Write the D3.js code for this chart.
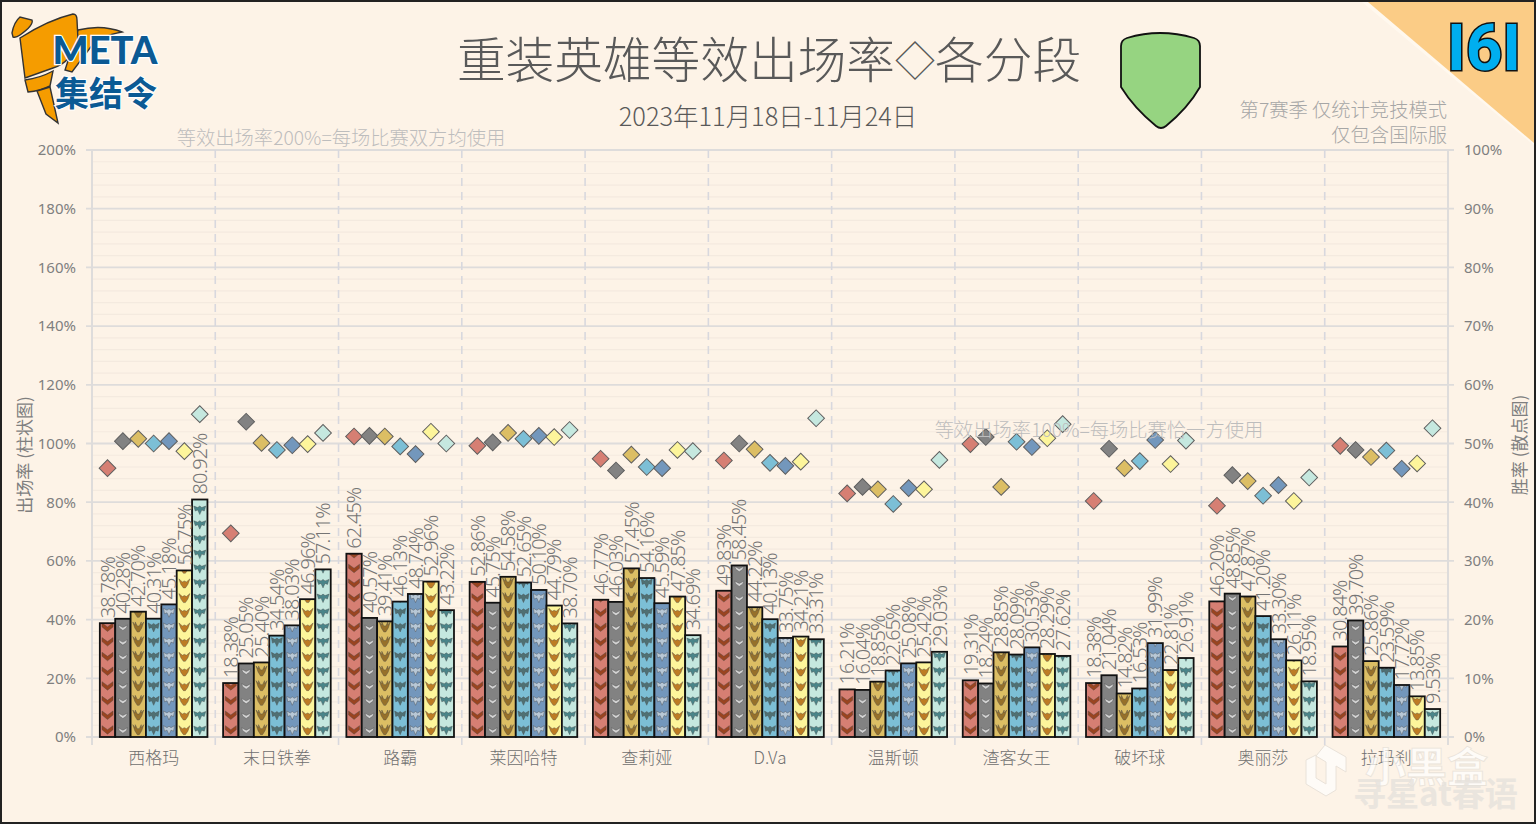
<!DOCTYPE html>
<html lang="zh">
<head>
<meta charset="utf-8">
<script src="https://cdn.jsdelivr.net/npm/d3@7"></script>
<style>
html,body{margin:0;padding:0;background:#fdf3e7;overflow:hidden}
svg{display:block}
text{font-family:"Noto Sans CJK SC","Noto Sans",sans-serif}
</style>
</head>
<body>
<svg id="c" width="1536" height="824"></svg>
<script>
const heroes = ["西格玛","末日铁拳","路霸","莱因哈特","查莉娅","D.Va","温斯顿","渣客女王","破坏球","奥丽莎","拉玛刹"];
const tiers = ["铜牌","银牌","金牌","白金","钻石","大师","宗师"];
const tierColors = ["#d67f73","#828282","#dcbe64","#7cbfd6","#7397bc","#fdf59b","#c5e8df"];
const iconColors = ["#9a4420","#d4d4d4","#96702a","#4f7073","#b8c8d6","#bd7c24","#4a8589"];
const pickRate = [
 [38.78,40.28,42.70,40.31,45.18,56.75,80.92],
 [18.38,25.05,25.40,34.54,38.03,46.96,57.11],
 [62.45,40.57,39.41,46.13,48.74,52.96,43.22],
 [52.86,45.75,54.58,52.65,50.10,44.79,38.70],
 [46.77,46.03,57.45,54.16,45.59,47.85,34.69],
 [49.83,58.45,44.22,40.13,33.75,34.21,33.31],
 [16.21,16.04,18.85,22.65,25.08,25.42,29.03],
 [19.31,18.24,28.85,28.09,30.53,28.29,27.62],
 [18.38,21.04,14.82,16.53,31.99,22.81,26.91],
 [46.20,48.85,47.87,41.20,33.30,26.11,18.95],
 [30.84,39.70,25.86,23.59,17.72,13.85,9.53]
];
const winRate = [
 [45.8,50.4,50.8,50.0,50.4,48.7,55.0],
 [34.7,53.7,50.1,48.9,49.7,49.9,51.8],
 [51.2,51.3,51.2,49.5,48.2,52.0,50.0],
 [49.6,50.2,51.8,50.8,51.3,51.1,52.3],
 [47.4,45.4,48.1,46.0,45.8,48.9,48.7],
 [47.1,50.0,49.0,46.7,46.2,46.9,54.3],
 [41.5,42.6,42.2,39.7,42.4,42.2,47.2],
 [49.9,51.1,42.6,50.3,49.4,50.9,53.3],
 [40.2,49.1,45.8,47.0,50.6,46.5,50.5],
 [39.4,44.6,43.6,41.1,42.9,40.2,44.2],
 [49.6,48.9,47.7,48.8,45.7,46.6,52.6]
];
const leftTicks = d3.range(0,201,20);
const rightTicks = d3.range(0,101,10);
const minorTicks = d3.range(0,201,4).filter(v=>v%20!==0);

const svg = d3.select("#c");
const L=92,R=1448,T=150,B=737;
const x = d3.scaleBand().domain(heroes).range([L,R]).paddingInner(0.127).paddingOuter(0.0635);
const xi = d3.scaleBand().domain(d3.range(7)).range([0,x.bandwidth()]);
const y = d3.scaleLinear().domain([0,200]).range([B,T]);
const yw = d3.scaleLinear().domain([0,100]).range([B,T]);
const step = x.step();

svg.append("rect").attr("width",1536).attr("height",824).attr("fill","#fdf3e7");

// corner ribbon
svg.append("path").attr("d","M1362,2 L1536,2 L1536,147 Z").attr("fill","#fff8ee");
svg.append("path").attr("d","M1368,2 L1534,2 L1534,143 Z").attr("fill","#fbcc86");
svg.append("text").text("I6I").attr("x",1484).attr("y",70).attr("text-anchor","middle")
  .style("font-family","Roboto").style("font-weight",700).style("font-size","64px")
  .attr("fill","#00aeef").attr("stroke","#111").attr("stroke-width",3).attr("paint-order","stroke");

// minor grid
svg.append("g").selectAll("line").data(minorTicks).join("line")
  .attr("x1",L).attr("x2",R).attr("y1",d=>y(d)).attr("y2",d=>y(d))
  .attr("stroke","#f4eadf").attr("stroke-width",1.2);
// major grid
svg.append("g").selectAll("line").data(leftTicks).join("line")
  .attr("x1",L-6).attr("x2",R+6).attr("y1",d=>y(d)).attr("y2",d=>y(d))
  .attr("stroke","#dedcdb").attr("stroke-width",1.8);
// category separators
svg.append("g").selectAll("line").data(d3.range(1,11)).join("line")
  .attr("x1",d=>L+d*step).attr("x2",d=>L+d*step).attr("y1",T).attr("y2",B+8)
  .attr("stroke","#d8d8de").attr("stroke-width",1.6).attr("stroke-dasharray","8 6");
// frame verticals
svg.append("g").selectAll("line").data([L,R]).join("line")
  .attr("x1",d=>d).attr("x2",d=>d).attr("y1",T).attr("y2",B+8)
  .attr("stroke","#dedcdb").attr("stroke-width",2);

// axes
const leftAxis = d3.axisLeft(y).tickValues(leftTicks).tickFormat(d=>d+"%").tickSize(0).tickPadding(16);
const rightAxis = d3.axisRight(yw).tickValues(rightTicks).tickFormat(d=>d+"%").tickSize(0).tickPadding(16);
const bottomAxis = d3.axisBottom(x).tickSize(0).tickPadding(15);
[[leftAxis,`translate(${L},0)`],[rightAxis,`translate(${R},0)`],[bottomAxis,`translate(0,${B})`]].forEach(([a,t],i)=>{
  const g = svg.append("g").attr("transform",t).call(a);
  g.select(".domain").remove();
  g.selectAll("text").attr("fill",i===2?"#6f6f6f":"#7f7f7f")
   .style("font-family",'"Noto Sans","Noto Sans CJK SC",sans-serif')
   .style("font-size",i===2?"17px":"15px");
  if(i===2) g.selectAll("text").style("font-family",'"Noto Sans CJK SC","Noto Sans",sans-serif').style("font-weight",300);
});

// icon shapes, one per tier, centred on 0,0
const iconPaths = [
 "M-5.5,-4 L0,0 L5.5,-4 L5.5,0 L0,4.5 L-5.5,0 Z",
 "M-4.5,-2 L-2,-0.5 L0,0.5 L2,-0.5 L4.5,-2 L3.5,1 L0,3.5 L-3.5,1 Z",
 "M-5.5,-5 L-3,-2 L-3,-5 L-1,-1 L1,-1 L3,-5 L3,-2 L5.5,-5 L3.5,1 L1,5 L-1,5 L-3.5,1 Z",
 "M-5.5,-4 L-2,-2 L0,-3.5 L2,-2 L5.5,-4 L4.5,1.5 L2,0.5 L0,5 L-2,0.5 L-4.5,1.5 Z",
 "M-5.5,-4 L-2,-2 L0,-3.5 L2,-2 L5.5,-4 L4.5,1.5 L2,0.5 L0,5 L-2,0.5 L-4.5,1.5 Z",
 "M-5.5,-4 L-2,-1 L0,-2 L2,-1 L5.5,-4 L3.5,1.5 L1,5 L-1,5 L-3.5,1.5 Z",
 "M-6,-3.5 L-2,-2 L0,-3.5 L2,-2 L6,-3.5 L4.5,1.5 L2,0.5 L0,5 L-2,0.5 L-4.5,1.5 Z"
];

const defs = svg.append("defs");
const rows = heroes.map((h,i)=>tiers.map((t,j)=>({h,i,j,v:pickRate[i][j],w:winRate[i][j]})));
const flat = rows.flat();
const bx = d=>x(d.h)+xi(d.j);
const bw = xi.bandwidth();

flat.forEach(d=>{
  defs.append("clipPath").attr("id",`b${d.i}_${d.j}`)
    .append("rect").attr("x",bx(d)).attr("y",y(d.v)).attr("width",bw).attr("height",B-y(d.v));
});

const bars = svg.append("g");
flat.forEach(d=>{
  const g = bars.append("g");
  g.append("rect").attr("x",bx(d)).attr("y",y(d.v)).attr("width",bw).attr("height",B-y(d.v))
    .attr("fill",tierColors[d.j]);
  const ic = g.append("g").attr("clip-path",`url(#b${d.i}_${d.j})`);
  d3.range(2.5,d.v+3,5).forEach(c=>{
    ic.append("path").attr("d",iconPaths[d.j])
      .attr("transform",`translate(${bx(d)+bw/2},${y(c)})`)
      .attr("fill",iconColors[d.j]).attr("stroke","#4a4a4a").attr("stroke-width",0.4);
  });
  g.append("rect").attr("x",bx(d)).attr("y",y(d.v)).attr("width",bw).attr("height",B-y(d.v))
    .attr("fill","none").attr("stroke","#111").attr("stroke-width",1.8);
});

// bar labels
svg.append("g").selectAll("text").data(flat).join("text")
  .text(d=>d.v.toFixed(2)+"%")
  .attr("transform",d=>`translate(${bx(d)+bw/2},${y(d.v)-5}) rotate(-90)`)
  .attr("dy","0.36em").attr("fill","#757575")
  .style("font-family",'"Noto Sans",sans-serif').style("font-weight",300)
  .style("font-size","20px").style("letter-spacing","-1px");

// win-rate points
svg.append("g").selectAll("path").data(flat).join("path")
  .attr("d",d3.symbol(d3.symbolSquare,140))
  .attr("transform",d=>`translate(${bx(d)+bw/2},${yw(d.w)}) rotate(45)`)
  .attr("fill",d=>tierColors[d.j]).attr("stroke","#5f5f5f").attr("stroke-width",1);

// titles
const t = (s,xp,yp,size,fill,anchor="middle",weight=300)=>svg.append("text").text(s).attr("x",xp).attr("y",yp)
  .attr("text-anchor",anchor).attr("fill",fill).style("font-size",size+"px").style("font-weight",weight);
const title = t("",769,78,48.7,"#595959");
title.append("tspan").text("重装英雄等效出场率");
title.append("tspan").text("◇").style("font-size","40px").attr("dy",-2);
title.append("tspan").text("各分段").attr("dy",2);
t("2023年11月18日-11月24日",768,126,25.4,"#595959");
t("等效出场率200%=每场比赛双方均使用",341,145,19.3,"#bdbdbd");
t("等效出场率100%=每场比赛恰一方使用",1099,437,19.3,"#bdbdbd");
t("第7赛季 仅统计竞技模式",1447,117,19.3,"#a6a6a6","end");
t("仅包含国际服",1447,142,19.3,"#a6a6a6","end");
svg.append("text").text("出场率 (柱状图)").attr("transform","translate(31,455) rotate(-90)")
  .attr("text-anchor","middle").attr("fill","#7f7f7f").style("font-size","17px");
svg.append("text").text("胜率 (散点图)").attr("transform","translate(1526,445) rotate(-90)")
  .attr("text-anchor","middle").attr("fill","#7f7f7f").style("font-size","17px");

// shield
svg.append("path").attr("d","M1121,46 Q1121,40 1127,38 Q1160,28 1194,38 Q1200,40 1200,46 L1200,87 Q1188,108 1166,126 Q1161,130 1156,126 Q1134,108 1121,87 Z")
  .attr("fill","#96d481").attr("stroke","#111").attr("stroke-width",1.8);

// logo
const logo = svg.append("g");
const lg = (d)=>logo.append("path").attr("d",d).attr("fill","#f59c00").attr("stroke","#333").attr("stroke-width",1.4);
lg("M78,30 Q102,24 122,32 Q100,36 90,48 L72,72 L65,70 Z");
lg("M20,38 Q48,20 73,14 Q77,14 77,20 L78,40 Q72,62 53,68 L25,78 Z");
lg("M12,33 Q14,22 20,17 L32,20 Q34,25 20,35 Q16,38 13,37 Z");
lg("M25,80 Q40,78 53,71 L50,86 Q40,91 28,92 Z");
lg("M37,91 L50,87 L58,123 L46,114 Z");
logo.append("text").text("META").attr("x",105).attr("y",64).attr("text-anchor","middle")
  .style("font-family","Lato").style("font-weight",900).style("font-size","38px")
  .attr("fill","#0b5a94").attr("stroke","#fff").attr("stroke-width",2.5).attr("paint-order","stroke");
logo.append("text").text("集结令").attr("x",106).attr("y",106).attr("text-anchor","middle")
  .style("font-weight",700).style("font-size","34px")
  .attr("fill","#0b5a94").attr("stroke","#fff").attr("stroke-width",2).attr("paint-order","stroke");

// watermark
const wm = svg.append("g");
wm.append("path").attr("d","M1325,745 L1346,757 L1346,772 L1336,766 L1336,790 L1326,796 L1306,784 L1306,760 L1316,755 L1316,778 L1326,784 L1326,762 L1316,756 Z")
  .attr("fill","#ffffff").attr("stroke","#e2dcd4").attr("stroke-width",1).attr("opacity",.7);
wm.append("text").text("小黑盒").attr("x",1365).attr("y",782).style("font-size","41px").style("font-weight",700)
  .attr("fill","#ffffff").attr("stroke","#e2dcd4").attr("stroke-width",.8).attr("opacity",.7);
wm.append("text").text("寻星at春语").attr("x",1353).attr("y",806).style("font-size","33px").style("font-weight",700)
  .attr("fill","#e6e2dc").attr("opacity",.8);

// outer border
svg.append("rect").attr("x",1).attr("y",1).attr("width",1534).attr("height",822)
  .attr("fill","none").attr("stroke","#222").attr("stroke-width",2);
</script>
</body>
</html>
